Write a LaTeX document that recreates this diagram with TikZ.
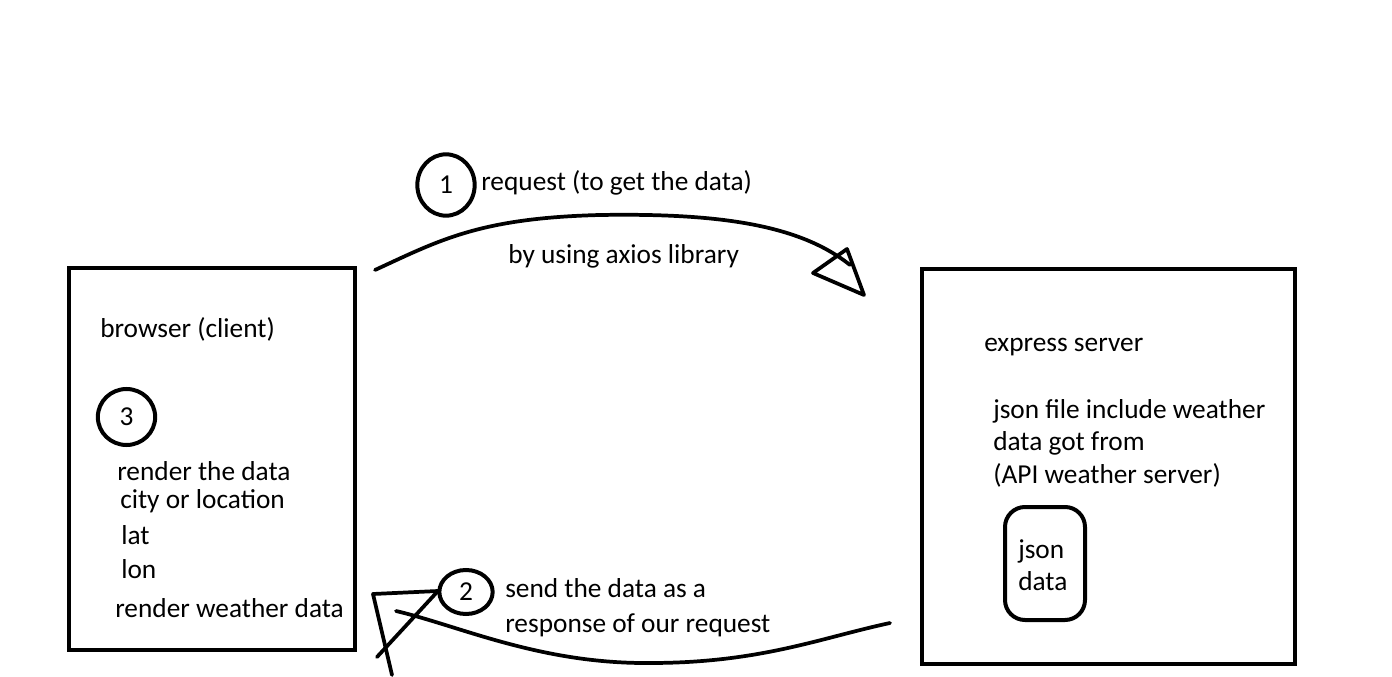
\documentclass[tikz,border=0pt]{standalone}
\usepackage{fontspec}
\setmainfont{Carlito}

\begin{document}
\begin{tikzpicture}[x=0.75pt, y=-0.75pt,
    box/.style={draw, line width=3pt, inner sep=0pt},
    num/.style={inner sep=0pt, font=\fontsize{20.5}{24}\selectfont},
    ring/.style={line width=3pt},
    txt/.style={anchor=base west, inner sep=0pt, font=\fontsize{20.5}{24}\selectfont},
    curve/.style={line width=2.8pt, line cap=round, line join=round}]
    \useasboundingbox (0,0) rectangle (1392,677);

    % Draw boxes
    \node[box, minimum width=214.5pt, minimum height=286.5pt] (browser) at (212,459) {};
    \node[box, minimum width=279.75pt, minimum height=296.25pt] (server) at (1108.5,466.5) {};
    \node[box, rounded corners=15pt, minimum width=60pt, minimum height=84.75pt] (jsonbox) at (1045,563.5) {};

    % Step circles
    \node[num] (n1) at (446,185) {1};
    \draw[ring] (n1.center) ellipse [x radius=21.5pt, y radius=23pt];
    \node[num] (n2) at (466,592) {2};
    \draw[ring] (n2.center) ellipse [x radius=20pt, y radius=16.5pt];
    \node[num] (n3) at (126.5,417) {3};
    \draw[ring] (n3.center) ellipse [x radius=21.5pt, y radius=21pt];
    \coordinate (n2w) at (438,591);

    % Browser texts
    \node[txt] (brtitle) at (100,338) {browser (client)};
    \node[txt] (render) at (117,480) {render the data};
    \node[txt] (city) at (120,508) {city or location};
    \node[txt] (lat) at (121,544) {lat};
    \node[txt] (lon) at (121,578) {lon};
    \node[txt] (renderw) at (115,617) {render weather data};

    % Server texts
    \node[txt] (srvtitle) at (984,351) {express server};
    \node[txt] (jsonfile) at (993,418) {json file include weather};
    \node[txt] (gotfrom) at (993,450) {data got from};
    \node[txt] (apisrv) at (993,483) {(API weather server)};
    \node[txt] (json) at (1018,558) {json};
    \node[txt] (jdata) at (1018,590) {data};

    % Arrow labels
    \node[txt] (reqlbl) at (481,191) {request (to get the data)};
    \node[txt] (axios) at (508,264) {by using axios library};
    \node[txt] (sendlbl) at (505,597) {send the data as a};
    \node[txt] (resplbl) at (505,632) {response of our request};

    % Request arrow
    \coordinate (reqstart) at (375,270);
    \coordinate (reqend) at (850,265);
    \draw[curve] (reqstart) .. controls (440,240) and (480,218) .. (600,215)
        .. controls (720,213) and (800,225) .. (reqend);
    \draw[curve] (847,249) -- (864,295) -- (813,273) -- cycle;

    % Response arrow
    \coordinate (resstart) at (890,623);
    \coordinate (resend) at (396,611);
    \draw[curve] (resstart) .. controls (820,638) and (760,663) .. (650,663)
        .. controls (540,664) and (460,626) .. (resend);
    \draw[curve] (n2w) -- (373,594) -- (392,675);
    \draw[curve] (n2w) -- (377,657);
\end{tikzpicture}
\end{document}
